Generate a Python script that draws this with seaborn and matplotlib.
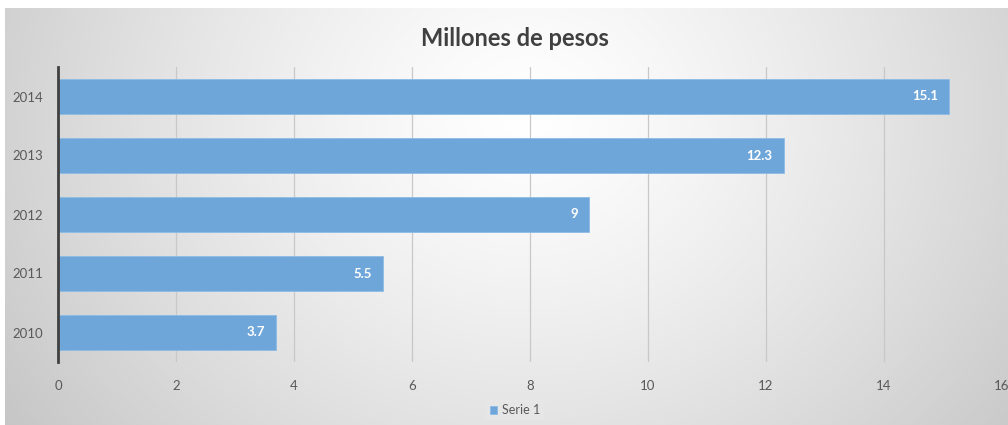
import numpy as np
import pandas as pd
import matplotlib
matplotlib.use("Agg")
import matplotlib.pyplot as plt
import seaborn as sns

years = ["2014", "2013", "2012", "2011", "2010"]
values = [15.1, 12.3, 9, 5.5, 3.7]
x_ticks = [0, 2, 4, 6, 8, 10, 12, 14, 16]
title = "Millones de pesos"
series_name = "Serie 1"

sns.set_theme(style="white")
plt.rcParams['font.family'] = ['Lato', 'DejaVu Sans']

W, H = 1008, 425
fig = plt.figure(figsize=(W / 100, H / 100), dpi=100, facecolor="white")

# background gradient panel
bg = fig.add_axes([5 / W, 0, 1003 / W, 417 / H])
bg.set_axis_off()
ny, nx = 200, 480
yy, xx = np.mgrid[0:ny, 0:nx]
cx, cy = nx * 0.52, ny * 0.25
d = np.sqrt(((xx - cx) / (nx * 0.58)) ** 2 + ((yy - cy) / (ny * 1.2)) ** 2)
v = 1.0 - 0.2 * np.clip(d, 0, 1.3) ** 1.3
img = np.dstack([v, v, v])
bg.imshow(img, aspect="auto", extent=[0, 1, 0, 1], interpolation="bilinear")
bg.set_xlim(0, 1)
bg.set_ylim(0, 1)

ax = fig.add_axes([58 / W, (H - 362) / H, (1002 - 58) / W, (362 - 67) / H])
ax.patch.set_alpha(0)

df = pd.DataFrame({"year": years, "value": values, "serie": series_name})
bar_color = "#6FA6D9"
sns.barplot(data=df, x="value", y="year", order=years, orient="h",
            color=bar_color, saturation=1, width=0.6, ax=ax, label=series_name,
            edgecolor="#8DBBE6", linewidth=0.6, zorder=3)

ax.set_xlim(0, 16)
ax.set_xticks(x_ticks)
ax.set_xticklabels([str(t) for t in x_ticks])
ax.grid(axis="x", color="#c8c8c8", linewidth=0.9, zorder=0)
ax.set_axisbelow(True)
for s in ["top", "right", "bottom"]:
    ax.spines[s].set_visible(False)
ax.spines["left"].set_color("#404040")
ax.spines["left"].set_linewidth(2)
ax.spines["left"].set_zorder(4)
ax.tick_params(axis="x", length=0, pad=13, labelsize=9.5, labelcolor="#595959")
ax.tick_params(axis="y", length=0, pad=11, labelsize=9.5, labelcolor="#595959")
ax.set_xlabel("")
ax.set_ylabel("")

for i, val in enumerate(values):
    ax.annotate(f"{val:g}", xy=(val, i), xytext=(-8, 0), textcoords="offset points",
                ha="right", va="center", color="white", fontsize=9.5,
                fontweight="bold", zorder=5)

fig.text(515 / W, 1 - 38 / H, title, ha="center", va="center",
         fontsize=17, fontweight="bold", color="#404040")

leg = ax.legend(loc="center", bbox_to_anchor=(515 / W, 1 - 410 / H),
                bbox_transform=fig.transFigure, frameon=True, fontsize=9,
                handlelength=0.6, handleheight=0.6, handletextpad=0.4,
                borderpad=0.3)
leg.get_frame().set_facecolor("#e8e8e8")
leg.get_frame().set_edgecolor("none")
leg.get_frame().set_alpha(0.5)
for t in leg.get_texts():
    t.set_color("#595959")

fig.savefig("out.png", dpi=100, facecolor="white")
